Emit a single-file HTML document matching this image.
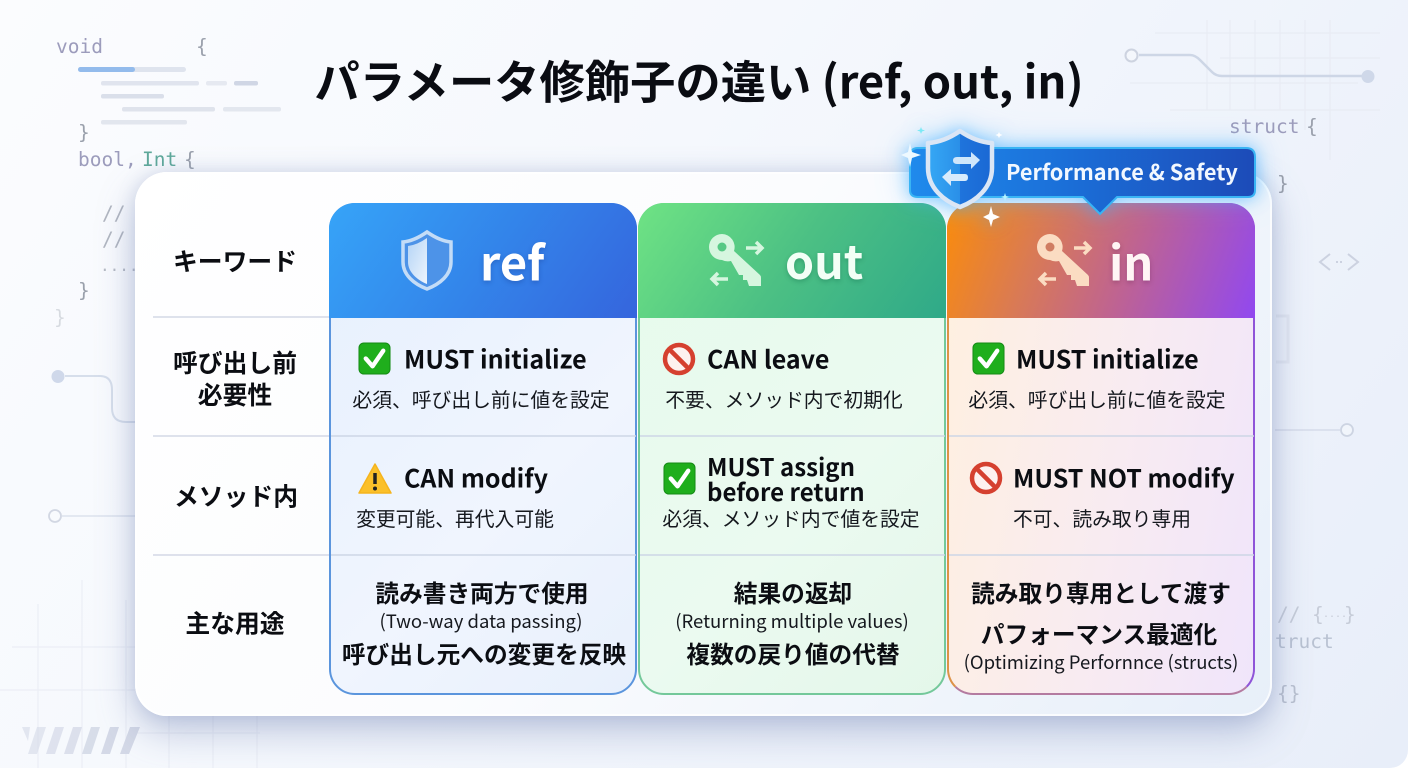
<!DOCTYPE html>
<html lang="ja"><head><meta charset="utf-8"><title>パラメータ修飾子の違い</title>
<style>
html,body{margin:0;padding:0;background:#fff}
#p{position:relative;width:1408px;height:768px;overflow:hidden;border-radius:0 0 18px 0;font-family:"Noto Sans CJK JP","Liberation Sans",sans-serif;background:linear-gradient(125deg,#fbfcfe 0%,#f5f8fd 40%,#e8eef9 100%);color:#0b0d12}
.t{position:absolute;white-space:nowrap;transform:translate(-50%,-50%);line-height:1}
.l{position:absolute;white-space:nowrap;transform:translateY(-50%);line-height:1}
.k{font-weight:700;font-size:24.8px}
.m{font-weight:700;font-size:25px}
.s{font-weight:400;font-size:19.8px;color:#15181e}
.b{font-weight:700;font-size:23.7px}
.n{font-weight:400;font-size:18.5px;color:#15181e}
.c{position:absolute;font-family:"DejaVu Sans Mono","Liberation Mono",monospace;white-space:nowrap;line-height:1;font-size:19.5px;color:#9c9cbc}
.g{color:#9aa0ac}
svg{position:absolute;left:0;top:0}
.card{position:absolute;left:135px;top:172px;width:1137px;height:544px;border-radius:32px;background:linear-gradient(125deg,#fff 0%,#fbfcfe 45%,#e7eff9 100%);box-shadow:0 16px 38px rgba(95,115,170,.36),0 0 18px rgba(120,135,180,.22),inset 0 0 0 2px rgba(255,255,255,.75)}
.col{position:absolute;top:203px;width:308px;height:492px;border-radius:26px;box-sizing:border-box}
.hd{position:absolute;top:203px;width:308px;height:115px;border-radius:26px 26px 0 0}
</style></head><body><div id="p">

<svg width="1408" height="768" fill="none">
 <g stroke="#e8ecf4" stroke-width="1.200">
  <path d="M1155 33H1380M1220 58H1380M1130 83H1358M1170 110H1380"/>
  <path d="M1207 20V110M1230 20V110M1255 20V110M1280 20V110M1305 20V130M1330 20V160"/>
 </g>
 <path d="M1139 55H1190Q1195 55 1200 60L1212 72Q1216 76 1222 76H1368" stroke="#cdd6e6" stroke-width="2.500"/>
 <circle cx="1131.500" cy="55.500" r="6" fill="#f4f7fc" stroke="#cdd3e0" stroke-width="2"/>
 <circle cx="1368" cy="76.500" r="6.500" fill="#cfd8e9"/>
 <g>
  <rect x="78" y="67" width="108" height="5" rx="2.500" fill="#dfe4ee"/>
  <rect x="78" y="67" width="57" height="5" rx="2.500" fill="#93bbec"/>
  <rect x="101" y="81" width="98" height="4.500" rx="2" fill="#e0e4ee"/>
  <rect x="206" y="81" width="21" height="4.500" rx="2" fill="#e6e9f1"/>
  <rect x="234" y="81" width="24" height="4.500" rx="2" fill="#d0d6e5"/>
  <rect x="101" y="94" width="63" height="4.500" rx="2" fill="#dadfea"/>
  <rect x="122" y="107" width="93" height="4.500" rx="2" fill="#dfe3ec"/>
  <rect x="223" y="107" width="58" height="4.500" rx="2" fill="#e3e7ef"/>
  <rect x="101" y="120" width="86" height="4.500" rx="2" fill="#e2e6ee"/>
 </g>
 <g stroke="#ebeef6" stroke-width="1.200">
  <path d="M38 604V768M82 580V768M126 600V768M169 700V768M213 700V768M257 700V768"/>
  <path d="M12 647H140M0 690H140M130 733H260"/>
 </g>
 <path d="M65 376H100Q112 376 112 390V408Q112 422 126 422H140" stroke="#d6deeb" stroke-width="2"/>
 <circle cx="58" cy="376.500" r="6.500" fill="#cfd8ea"/>
 <path d="M62 516H140" stroke="#dce2ed" stroke-width="1.500"/>
 <circle cx="55" cy="516" r="6" fill="#f8fafd" stroke="#d2d7e3" stroke-width="1.800"/>
 <g fill="#d4d9e7">
  <path d="M22 727H30L28 741 22 727Z" opacity=".6"/>
  <path d="M37 727H46L37 754H28Z" opacity=".6"/><path d="M55 727H64L55 754H46Z" opacity=".7"/>
  <path d="M73 727H82L73 754H64Z" opacity=".8"/><path d="M91 727H100L91 754H82Z" opacity=".9"/>
  <path d="M110 727H119L110 754H101Z"/><path d="M130 727H140L129 754H120Z"/>
 </g>
 <path d="M1275 430H1340" stroke="#d6dcea" stroke-width="1.500"/>
 <circle cx="1347" cy="430" r="6" fill="#f1f5fb" stroke="#cdd4e2" stroke-width="1.800"/>
 <path d="M1330 254L1320 262L1330 270M1348 254L1358 262L1348 270" stroke="#ccd2e0" stroke-width="2"/>
 <path d="M1336 262h6" stroke="#ccd2e0" stroke-width="2" stroke-dasharray="2 2"/>
 <path d="M1276 316H1288V362H1276" stroke="#e2e7f1" stroke-width="3"/>
</svg>

<div class="c" style="left:56px;top:37px">void</div><div class="c g" style="left:196px;top:37px">{</div>
<div class="c g" style="left:78px;top:123px">}</div>
<div class="c" style="left:78px;top:150px">bool,</div><div class="c" style="left:142px;top:150px;color:#5fa99b">Int</div><div class="c g" style="left:184px;top:150px">{</div>
<div class="c g" style="left:102px;top:204px;opacity:.75">//</div>
<div class="c g" style="left:102px;top:230px;opacity:.75">//</div>
<div class="c g" style="left:100px;top:258px;opacity:.7;font-size:16px">....</div>
<div class="c g" style="left:78px;top:281px">}</div>
<div class="c g" style="left:54px;top:308px;opacity:.35">}</div>
<div class="c" style="left:1229px;top:117px">struct</div><div class="c g" style="left:1306px;top:117px">{</div>
<div class="c g" style="left:1277px;top:174px">}</div>
<div class="c" style="left:1277px;top:605px;color:#c6ccd8">//</div>
<div class="c" style="left:1312px;top:605px;color:#c6ccd8">{</div>
<div class="c" style="left:1323px;top:610px;color:#c6ccd8;font-size:10px">....</div>
<div class="c" style="left:1344px;top:605px;color:#c6ccd8">}</div>
<div class="c" style="left:1275px;top:632px;color:#b9c2d2">truct</div>
<div class="c" style="left:1277px;top:684px;color:#b9c0cf">{}</div>

<div class="t" style="left:699px;top:80px;font-size:45.3px;font-weight:700;color:#0a0c12">パラメータ修飾子の違い (ref, out, in)</div>

<div class="card"></div>

<svg width="1408" height="768" fill="none">
 <path d="M153 317H329M153 436H329M153 555H329" stroke="#d3d8e6" stroke-width="1.500"/>
</svg>

<div class="t k" style="left:235px;top:261px">キーワード</div>
<div class="t k" style="left:235px;top:378px;line-height:32px;text-align:center">呼び出し前<br>必要性</div>
<div class="t k" style="left:236px;top:496px">メソッド内</div>
<div class="t k" style="left:235px;top:623px">主な用途</div>

<div class="col" style="left:329px;background:linear-gradient(135deg,#e6f0fd,#f0f5fe 60%,#e8f0fc);border:2px solid #5b95dd"></div>
<div class="col" style="left:638px;background:linear-gradient(135deg,#e6fbec,#ebfaf0 60%,#e4f7ea);border:2px solid #74c89a"></div>
<div class="col" style="left:947px;background:linear-gradient(100deg,#fff0df 0%,#f8ebf1 55%,#f0e5fb 100%);border:2px solid;border-color:#8f5ad0 #8f55d8 #b47ba0 #dd9248"></div>
<div class="hd" style="left:329px;background:linear-gradient(125deg,#36a4f8 0%,#3385ea 50%,#3565dd 100%)"></div>
<div class="hd" style="left:638px;background:linear-gradient(125deg,#6fe384 0%,#4cc084 50%,#2fa988 100%)"></div>
<div class="hd" style="left:947px;background:linear-gradient(110deg,#fb8c0a 0%,#d97a55 30%,#bd6295 60%,#9148f0 100%)"></div>

<svg width="1408" height="768" fill="none">
 <defs>
  <symbol id="ok" viewBox="0 0 34 34"><rect x="1" y="1" width="32" height="32" rx="5" fill="#1fae1c" stroke="#148a14"/><path d="M8 17L15 25L26 9" stroke="#fff" stroke-width="4.500" stroke-linejoin="round" stroke-linecap="round"/></symbol>
  <symbol id="no" viewBox="0 0 34 34"><circle cx="17" cy="17" r="14" fill="#fdf1ef" stroke="#d5402f" stroke-width="4.500"/><path d="M7 7L27 27" stroke="#d5402f" stroke-width="4.500"/></symbol>
  <symbol id="wa" viewBox="0 0 34 34"><path d="M17 2L33 31H1Z" fill="#fbc02a" stroke="#f5b41e" stroke-width="1.500" stroke-linejoin="round"/><path d="M17 11V22" stroke="#222" stroke-width="3.500"/><circle cx="17" cy="26.500" r="2" fill="#222"/></symbol>
  <symbol id="key" viewBox="0 0 56 54"><path d="M13 0A13 13 0 0 1 25 17L51 41Q52 42 52 44V52H40L38 46H34V41H30L22 27A13 13 0 0 1 13 26A13 13 0 0 1 13 0Z" fill="currentColor"/><circle cx="13" cy="13" r="4.500" fill="var(--h)"/><path d="M37 14H53M47 8L53 14L47 20M19 45H3M9 39L3 45L9 51" stroke="currentColor" stroke-width="3.500" fill="none"/></symbol>
  <linearGradient id="sl" x1="0" y1="0" x2="1" y2="1"><stop offset="0" stop-color="#b4d4f6"/><stop offset="1" stop-color="#eef5fd"/></linearGradient>
 </defs>
 <path d="M331 436H636M331 555H636M640 436H945M640 555H945M949 436H1254M949 555H1254" stroke="#cdd6e6" stroke-width="1.500"/>

 <path d="M427 232Q440 241 451 242V262C451 275 440 284 427 289C414 284 403 275 403 262V242Q414 241 427 232Z" fill="#4d93e8" stroke="#c3dcf7" stroke-width="3.500"/>
 <path d="M427 238Q417 245 408 246V262C408 272 417 280 427 284Z" fill="url(#sl)"/>
 <use href="#key" x="709" y="234" width="56" height="54" style="color:#d6f6df;--h:#57c985"/>
 <use href="#key" x="1037" y="234" width="56" height="54" style="color:#fbdcc2;--h:#d07d62"/>

 <use href="#ok" x="358" y="342" width="33" height="33"/>
 <use href="#no" x="662" y="342" width="34" height="34"/>
 <use href="#ok" x="972" y="342" width="33" height="33"/>
 <use href="#wa" x="358" y="462" width="34" height="34"/>
 <use href="#ok" x="663" y="462" width="33" height="33"/>
 <use href="#no" x="969" y="461" width="34" height="34"/>
</svg>

<div class="l" style="left:480px;top:260px;font-size:47px;font-weight:700;color:#fff;text-shadow:0 2px 5px rgba(20,50,130,.3)">ref</div>
<div class="l" style="left:785px;top:260px;font-size:46.5px;font-weight:700;color:#f3fff6;text-shadow:0 2px 5px rgba(10,90,60,.3)">out</div>
<div class="l" style="left:1109px;top:260px;font-size:47px;font-weight:700;color:#fff5f5;text-shadow:0 2px 5px rgba(90,30,70,.3)">in</div>

<div class="l m" style="left:404px;top:359px">MUST initialize</div>
<div class="t s" style="left:481px;top:399px">必須、呼び出し前に値を設定</div>
<div class="l m" style="left:707px;top:359px">CAN leave</div>
<div class="t s" style="left:784px;top:399px">不要、メソッド内で初期化</div>
<div class="l m" style="left:1016px;top:359px">MUST initialize</div>
<div class="t s" style="left:1097px;top:399px">必須、呼び出し前に値を設定</div>

<div class="l m" style="left:404px;top:478px">CAN modify</div>
<div class="t s" style="left:455px;top:518px">変更可能、再代入可能</div>
<div class="l m" style="left:707px;top:478px;line-height:25px;font-size:24px">MUST assign<br>before return</div>
<div class="t s" style="left:791px;top:518px">必須、メソッド内で値を設定</div>
<div class="l m" style="left:1013px;top:478px">MUST NOT modify</div>
<div class="t s" style="left:1102px;top:518px">不可、読み取り専用</div>

<div class="t b" style="left:482px;top:593px">読み書き両方で使用</div>
<div class="t n" style="left:481px;top:621px">(Two-way data passing)</div>
<div class="t b" style="left:484px;top:654px">呼び出し元への変更を反映</div>
<div class="t b" style="left:793px;top:593px">結果の返却</div>
<div class="t n" style="left:792px;top:621px">(Returning multiple values)</div>
<div class="t b" style="left:793px;top:654px">複数の戻り値の代替</div>
<div class="t b" style="left:1101px;top:593px">読み取り専用として渡す</div>
<div class="t b" style="left:1099px;top:634px">パフォーマンス最適化</div>
<div class="t n" style="left:1101px;top:662px">(Optimizing Perfornnce (structs)</div>

<svg width="1408" height="768" fill="none" style="filter:drop-shadow(0 0 8px rgba(60,170,255,.55)) drop-shadow(0 0 14px rgba(90,190,255,.35))">
 <defs>
  <linearGradient id="bd" x1="0" y1="0" x2="1" y2="0"><stop offset="0" stop-color="#1f8aec"/><stop offset=".45" stop-color="#1b6fd8"/><stop offset="1" stop-color="#1c4bb8"/></linearGradient>
  <linearGradient id="sh" x1="0" y1="0" x2="1" y2="0"><stop offset="0" stop-color="#36a8f5"/><stop offset=".5" stop-color="#2a8fe8"/><stop offset=".5" stop-color="#1f74dc"/><stop offset="1" stop-color="#1a68d4"/></linearGradient>
 </defs>
 <path d="M918 148H1246Q1255 148 1255 157V190Q1255 197 1248 197H1117L1100 214L1083 197H918Q910 197 910 190V157Q910 148 918 148Z" fill="url(#bd)" stroke="#39b4f4" stroke-width="2"/>
 <path d="M960 131Q976 142 992 143V168C992 188 976 201 960 207C944 201 928 188 928 168V143Q944 142 960 131Z" fill="url(#sh)" stroke="#dbe6f5" stroke-width="4.500" stroke-linejoin="round"/>
 <path d="M957 157H971V152L980 160L971 169V164H957Q953 164 953 160.500Q953 157 957 157Z" fill="#cfe6fb"/>
 <path d="M965 174H951V169L942 177L951 186V181H965Q968 181 968 177.500Q968 174 965 174Z" fill="#d8ebfc"/>
 <g fill="#fff">
  <path d="M910 143L912 152L921 155L912 158L910 167L908 158L901 155L908 152Z" fill="#eef9ff"/>
  <path d="M991 206L993 214L1000 217L993 220L991 227L989 220L983 217L989 214Z"/>
  <path d="M1005 193L1006 196L1009 197L1006 198L1005 201L1004 198L1001 197L1004 196Z" fill="#b5f4ff"/>
  <path d="M921 127L922 129.500L925 130.500L922 131.500L921 134L920 131.500L917 130.500L920 129.500Z" fill="#7be9f5"/>
  <path d="M999 132L1000 134L1002.500 135L1000 136L999 138L998 136L995.500 135L998 134Z"/>
 </g>
</svg>
<div class="l" style="left:1006px;top:172px;font-size:21.7px;font-weight:700;color:#f2f8ff">Performance &amp; Safety</div>

</div></body></html>
